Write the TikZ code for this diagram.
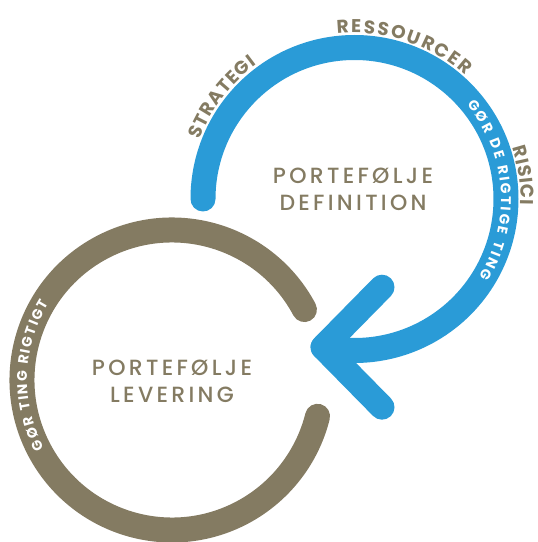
\documentclass[tikz,border=0pt]{standalone}
\usepackage{fontspec}
\setmainfont{Poppins}
\newfontfamily\titelfam{Poppins Medium}
\usetikzlibrary{calc,decorations.text}

\definecolor{blau}{HTML}{2A9BD7}
\definecolor{braun}{HTML}{847B62}

\newcommand{\titelfont}{\titelfam\fontsize{22}{27}\selectfont\addfontfeature{LetterSpace=15}}
\newcommand{\bogenfont}{\fontsize{18.5}{18.5}\selectfont\bfseries}
\newcommand{\ringfont}{\fontsize{14}{14}\selectfont\bfseries}

\begin{document}
\begin{tikzpicture}[x=1pt,y=1pt]

    % 参数
    \def\Rb{151.5} % 蓝色圆半径
    \def\Rg{150}   % 棕色圆半径
    \def\Rt{166}   % 外侧文字半径
    \def\W{25}     % 线宽

    \useasboundingbox (0,0) rectangle (538,542);

    \coordinate (Cdef) at (354.5,343);
    \coordinate (Clev) at (172,162);

    % 棕色圆环
    \draw[braun, line width=\W, line cap=round]
        ([shift={(28:\Rg)}]Clev) arc[start angle=28, end angle=346, radius=\Rg];

    % 蓝色圆弧和箭头
    \draw[blau, line width=\W, line cap=round, line join=round]
        ([shift={(180:\Rb)}]Cdef) arc[start angle=180, end angle=-102, radius=\Rb] coordinate (tip);
    \coordinate (armA) at ([shift={(59,60)}]tip);
    \coordinate (armB) at ([shift={(59,-60)}]tip);
    \draw[blau, line width=\W, line cap=round, line join=round] (armA) -- (tip) -- (armB);

    % 中心文字
    \node[braun, align=center, font=\titelfont] (def) at (353,353) {PORTEFØLJE\\DEFINITION};
    \node[braun, align=center, font=\titelfont] (lev) at (172,160.5) {PORTEFØLJE\\LEVERING};

    % 外侧标签
    \path[decorate, decoration={text along path, text align={fit to path}, text color=braun,
        text={|\bogenfont|STRATEGI}}]
        ([shift={(159:\Rt)}]Cdef) arc[start angle=159, end angle=126, radius=\Rt];
    \path[decorate, decoration={text along path, text align={fit to path}, text color=braun,
        text={|\bogenfont|RESSOURCER}}]
        ([shift={(96:\Rt)}]Cdef) arc[start angle=96, end angle=48, radius=\Rt];
    \path[decorate, decoration={text along path, text align={fit to path}, text color=braun,
        text={|\bogenfont|RISICI}}]
        ([shift={(18:\Rt)}]Cdef) arc[start angle=18, end angle=-2, radius=\Rt];

    % 圆环内白字
    \path[decorate, decoration={text along path, text align={fit to path}, text color=white,
        text={|\ringfont|GØR DE RIGTIGE TING}}]
        ([shift={(40:146.5)}]Cdef) arc[start angle=40, end angle=-32, radius=146.5];
    \path[decorate, decoration={text along path, text align={fit to path}, text color=white,
        text={|\ringfont|GØR TING RIGTIGT}}]
        ([shift={(208:145)}]Clev) arc[start angle=208, end angle=148, radius=145];

\end{tikzpicture}
\end{document}
